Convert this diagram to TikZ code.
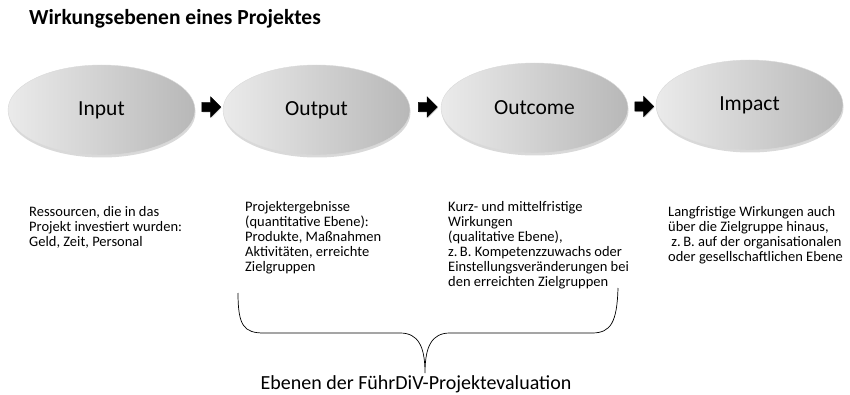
\documentclass[tikz,border=0pt]{standalone}
\usepackage{fontspec}
\setmainfont{Carlito}
\usetikzlibrary{shapes.geometric,shapes.arrows,shadows,calc}

\begin{document}
\begin{tikzpicture}[x=1pt, y=1pt,
  lvl/.style={ellipse, draw=black!15, line width=0.4pt, minimum width=187pt, minimum height=90pt, inner sep=0pt,
    left color=black!8, right color=black!28, drop shadow={shadow xshift=0.5pt, shadow yshift=-2.5pt, opacity=0.3},
    font=\fontsize{21.5}{25}\selectfont},
  blk/.style={single arrow, fill=black, draw=black, line width=0.4pt, inner sep=4.5pt, minimum height=19pt,
    single arrow head extend=5.5pt, drop shadow={shadow xshift=0.8pt, shadow yshift=-1pt, opacity=0.3}},
  desc/.style={anchor=base west, align=left, inner sep=0pt, font=\fontsize{14.5}{15}\selectfont},
  title/.style={anchor=base west, inner sep=0pt, font=\fontsize{21.5}{25}\selectfont\bfseries}]
  \useasboundingbox (0,0) rectangle (850,-395);
  \node[title] (hd) at (29,-25) {Wirkungsebenen eines Projektes};
  % levels
  \node[lvl] (inp) at (101.5,-110) {Input};
  \node[lvl] (outp) at (316.5,-110) {Output};
  \node[lvl] (outc) at (534.5,-108) {Outcome};
  \node[lvl] (imp) at (749.5,-105) {Impact};
  \node[blk] (a1) at ($(inp.east)!0.5!(outp.west)+(0,3)$) {};
  \node[blk] (a2) at ($(outp.east)!0.5!(outc.west)+(0,2)$) {};
  \node[blk] (a3) at ($(outc.east)!0.5!(imp.west)+(0,0)$) {};
  % descriptions (anchored at the last baseline)
  \node[desc] (d1) at (29,-246) {Ressourcen, die in das\\Projekt investiert wurden:\\Geld, Zeit, Personal};
  \node[desc] (d2) at (245,-271) {Projektergebnisse\\(quantitative Ebene):\\Produkte, Maßnahmen\\Aktivitäten, erreichte\\Zielgruppen};
  \node[desc] (d3) at (448,-286) {Kurz- und mittelfristige\\Wirkungen\\(qualitative Ebene),\\z.\,B. Kompetenzzuwachs oder\\Einstellungsveränderungen bei\\den erreichten Zielgruppen};
  \node[desc] (d4) at (668,-261) {Langfristige Wirkungen auch\\über die Zielgruppe hinaus,\\\ z.\,B. auf der organisationalen\\oder gesellschaftlichen Ebene};
  % brace
  \draw[line width=0.7pt] (238,-293) .. controls (238,-326) and (244,-333) .. (264,-333) -- (400,-333)
    .. controls (418,-333) and (425,-346) .. (425,-373) .. controls (425,-346) and (432,-333) .. (450,-333)
    -- (592,-333) .. controls (611,-333) and (617,-322) .. (618,-288);
  \node[anchor=base, inner sep=0pt, font=\fontsize{20}{24}\selectfont] (ev) at (416,-389) {Ebenen der FührDiV-Projektevaluation};
\end{tikzpicture}
\end{document}
